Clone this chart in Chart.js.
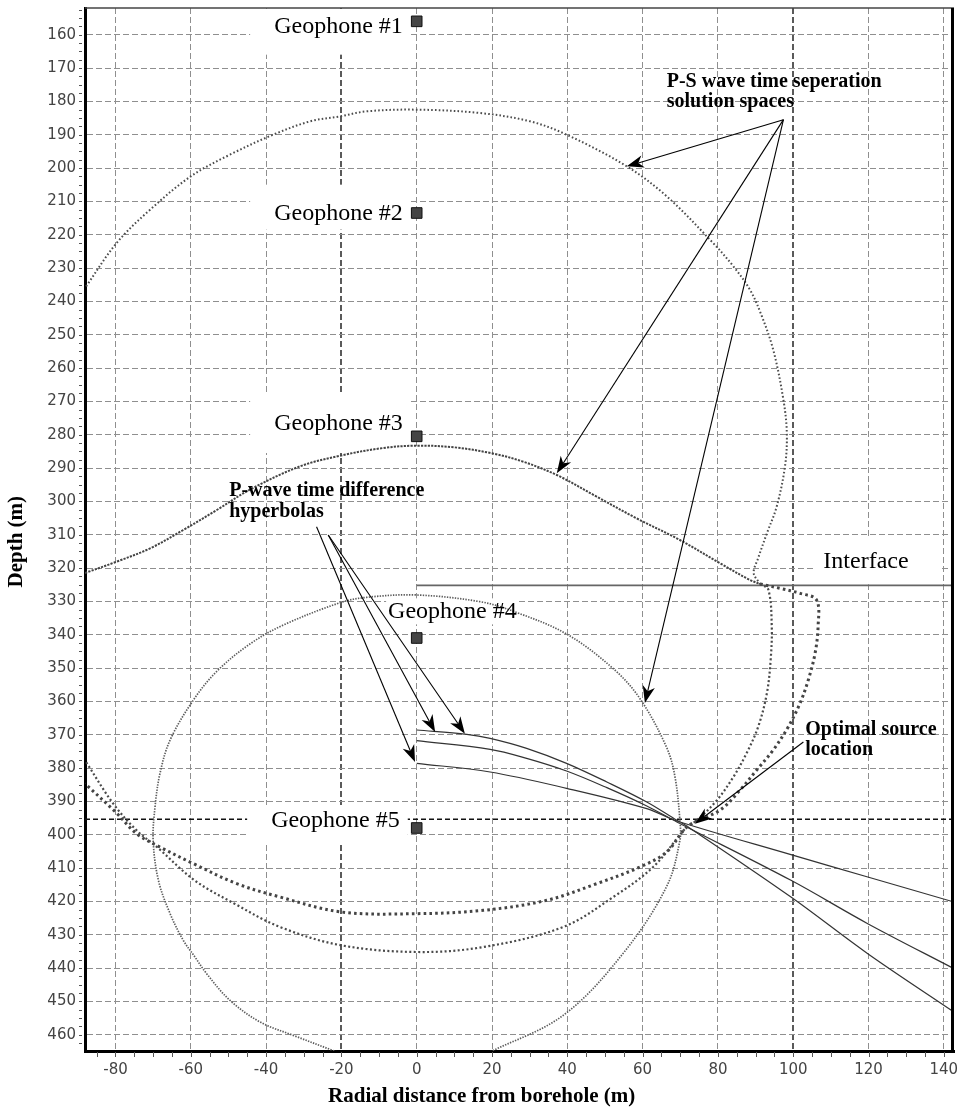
<!DOCTYPE html>
<html><head><meta charset="utf-8">
<script src="https://cdn.jsdelivr.net/npm/chart.js@4.4.1/dist/chart.umd.min.js"></script>
<style>html,body{margin:0;padding:0;background:#fff;}canvas{display:block;}</style>
</head><body>
<canvas id="c" width="958" height="1107"></canvas>
<script>
// ---------------- data ----------------
const xTicks = [-80,-60,-40,-20,0,20,40,60,80,100,120,140];
const yTicks = [160,170,180,190,200,210,220,230,240,250,260,270,280,290,300,310,320,330,340,350,360,370,380,390,400,410,420,430,440,450,460];

const geophoneX     = [0, 0, 0, 0, 0];
const geophoneDepth = [156, 213.5, 280.5, 341, 398];

const interfaceX     = [0, 142.7];
const interfaceDepth = [325.2, 325.2];
const sourceLineX     = [-88.1, 142.7];
const sourceLineDepth = [395.4, 395.4];

// P-S solution space A (outer, around geophones 1-2)
const psAUpperX = [-87.8,-79.7,-70.8,-60,-49.6,-38.1,-28.3,-20.3,-13.3,0,16.8,30.1,39.8,55.8,66.4,78.3,84.1,88.5,91.5,94.7,97.4,98.3,97.8,95.6,93,90.7,89.5,91.2];
const psAUpperY = [235.5,222.5,212.5,202.5,196,190,186,184.5,183,182.5,183.5,186,190,199.5,208.5,222,229.5,236.5,244,254.6,269.6,279.6,289.6,301.6,309.6,317,321.5,324.8];
const psALowerX = [91.2,93.4,94.3,94,93,90.7,87.6,84.1,79.7,74.4,71.7,62.8,52.2,38.9,17.7,0,-20,-36.3,-48.4,-59,-69,-74.4,-80.6,-88.1];
const psALowerY = [324.8,326.5,337.6,347.6,357.6,367.6,375.6,382.7,389.7,395.7,397.7,409.7,418.7,427.7,433.7,435.2,433.2,427.7,420.7,413.7,403.7,398.7,390.7,377.7];

// P-S solution space B (around geophone 3)
const psBUpperX = [-88.1,-79.7,-70.8,-62,-53.1,-44.3,-31,-20.3,-8.9,0,10,20,28,37.2,47.8,58.4,69.9,80.6,88.5,91.2];
const psBUpperY = [321.5,318.1,314.1,308.6,302.6,296.5,289.5,286.3,284,283.3,283.8,285.6,288,292.1,298.6,305.1,311.6,318.6,323.6,324.8];
const psBLowerX = [91.2,96.5,101.8,106.2,106.6,105.8,104,101.8,98.7,94.7,90.3,85.9,80.6,72,66.4,59.3,47.8,34.5,17.7,0,-20,-36.3,-47.8,-59.3,-68.2,-74.4,-80,-88.1];
const psBLowerY = [324.8,326.1,327.6,329.6,337.6,345.6,353.6,360.6,367.6,374.6,380.6,386.6,392.6,397.5,405.2,409.7,414.7,419.7,422.7,423.7,423.2,418.7,414.7,408.7,403.7,399.7,393.2,384.7];

// P-S solution space C (around geophones 4-5)
const psCX = [-21.2,-32.8,-41.6,-49.6,-55.8,-58.9,-62,-65.5,-68.6,-70,-69.5,-68.2,-65.5,-59.3,-53.1,-44.3,-35.4,-20.3,-13.3,0,16.8,25.7,39.8,52.2,59.3,66.4,68.6,69.9,69.9,66.4,54.9,38.9,19.5];
const psCY = [465.2,460.2,456.2,449.7,441.7,436.7,431.7,423.7,413.7,401.7,391.7,381.7,371.6,359.6,351,342.8,337.1,330.4,328.8,328.1,330.1,333,339.8,350.2,359.2,373.9,382.7,395.7,401.7,415.5,435.5,454.2,465.2];

// P-wave time difference hyperbolas
const hyp1X = [0,13.3,19.5,29.2,39.8,50.5,61.1,69.1,72,99.4,119.8,142.7];
const hyp1Y = [368.6,369.9,371.1,374.1,378.6,384.2,390.2,395.7,397.6,418.7,435.7,453.2];
const hyp2X = [0,19.5,29.2,39.8,50.5,61.1,69.1,99.4,119.8,142.7];
const hyp2Y = [371.8,374.4,377.1,380.9,385.9,391.4,396.2,413.7,426.7,440.2];
const hyp3X = [0,19.5,39.8,61.1,69.1,99.4,119.8,142.7];
const hyp3Y = [378.6,381.2,386.1,392.2,395.9,406,412.7,420.2];

// ---------------- annotations (layout) ----------------
const SERIF = '"Liberation Serif", "Times New Roman", serif';
const textLabels = [
  {t:'Geophone #1', x:-3.7, y:159.4, align:'right', font:'24px '+SERIF, box:[24,8,-25,22]},
  {t:'Geophone #2', x:-3.7, y:215.5, align:'right', font:'24px '+SERIF, box:[24,8,-35,10]},
  {t:'Geophone #3', x:-3.7, y:278.6, align:'right', font:'24px '+SERIF, box:[24,8,-35,23]},
  {t:'Geophone #4', x:-7.6, y:335.1, align:'left',  font:'24px '+SERIF, box:[2,2,-20,6]},
  {t:'Geophone #5', x:-4.5, y:397.7, align:'right', font:'24px '+SERIF, box:[24,8,-22,16]},
  {t:'Interface',   x:108,  y:320.1, align:'left',  font:'24px '+SERIF, box:[10,33,-31,16]},
  {t:'P-S wave time seperation', x:66.4, y:175.6, align:'left', font:'bold 20px '+SERIF},
  {t:'solution spaces',          x:66.4, y:181.6, align:'left', font:'bold 20px '+SERIF},
  {t:'P-wave time difference',   x:-49.8, y:298.4, align:'left', font:'bold 20px '+SERIF},
  {t:'hyperbolas',               x:-49.8, y:304.6, align:'left', font:'bold 20px '+SERIF},
  {t:'Optimal source',           x:103.2, y:370.0, align:'left', font:'bold 20px '+SERIF},
  {t:'location',                 x:103.2, y:376.2, align:'left', font:'bold 20px '+SERIF}
];
const arrows = [
  {from:[97.4,185.5], to:[55.8,199.5]},
  {from:[97.4,185.5], to:[37.2,291.6]},
  {from:[97.4,185.5], to:[60.6,360.5]},
  {from:[-26.6,307.6], to:[-0.45,378.2]},
  {from:[-23.5,310.1], to:[4.9,369.2]},
  {from:[-23.5,310.1], to:[12.8,369.7]},
  {from:[102.7,372.2], to:[73.9,396.7]}
];

function pts(xs, ys){ return xs.map((x,i)=>({x:x, y:ys[i]})); }
function curve(data, color, width, dash, order){
  return {data:data, showLine:true, borderColor:color, borderWidth:width, borderDash:dash||[],
          borderCapStyle:'butt', pointRadius:0, pointHoverRadius:0, tension:0.35, fill:false, order:order||0};
}

const datasets = [
  curve(pts(psAUpperX, psAUpperY), '#4d4d4d', 2,   [1.6,2.2]),
  curve(pts(psALowerX, psALowerY), '#4a4a4a', 2.2, [2,2.4]),
  curve(pts(psBUpperX, psBUpperY), '#444',    2,   [2.2,1.2]),
  curve(pts(psBLowerX, psBLowerY), '#444',    3,   [2.6,3.2]),
  curve(pts(psCX, psCY),           '#5c5c5c', 1.7, [1.4,1.3]),
  curve(pts(hyp1X, hyp1Y), '#333', 1.2),
  curve(pts(hyp2X, hyp2Y), '#333', 1.2),
  curve(pts(hyp3X, hyp3Y), '#333', 1.2),
  Object.assign(curve(pts(interfaceX, interfaceDepth), '#666', 1.6), {tension:0}),
  {data:pts(geophoneX, geophoneDepth), showLine:false, pointStyle:'rect', pointRadius:7.5,
   pointBackgroundColor:'#454545', pointBorderColor:'#111', pointBorderWidth:1, order:-1},
  Object.assign(curve(pts(sourceLineX, sourceLineDepth), '#111', 1.5, [5,3], 100), {tension:0})
];
const SRC_INDEX = datasets.length - 1;

function px(chart, x){ return chart.scales.x.getPixelForValue(x); }
function py(chart, y){ return chart.scales.y.getPixelForValue(y); }

const overlay = {
  id:'overlay',
  afterDatasetDraw(chart, args){
    if (args.index !== SRC_INDEX) return;
    const ctx = chart.ctx, a = chart.chartArea;
    ctx.save();
    ctx.beginPath(); ctx.rect(a.left+2, a.top+1, a.right-a.left-4, a.bottom-a.top-3); ctx.clip();
    ctx.fillStyle = '#fff';
    textLabels.forEach(l => {
      if (!l.box) return;
      ctx.font = l.font;
      const w = ctx.measureText(l.t).width;
      const X = px(chart, l.x), Y = py(chart, l.y);
      const left = l.align === 'right' ? X - w : X;
      ctx.fillRect(left - l.box[0], Y + l.box[2], w + l.box[0] + l.box[1], l.box[3] - l.box[2]);
    });
    ctx.restore();
  },
  afterDatasetsDraw(chart){
    const ctx = chart.ctx;
    ctx.save();
    ctx.fillStyle = '#000';
    ctx.textBaseline = 'alphabetic';
    textLabels.forEach(l => {
      ctx.font = l.font;
      ctx.textAlign = l.align;
      ctx.fillText(l.t, px(chart, l.x), py(chart, l.y));
    });
    ctx.strokeStyle = '#000'; ctx.lineWidth = 1.1;
    arrows.forEach(ar => {
      const x1 = px(chart, ar.from[0]), y1 = py(chart, ar.from[1]);
      const x2 = px(chart, ar.to[0]),   y2 = py(chart, ar.to[1]);
      const ang = Math.atan2(y2-y1, x2-x1), L = 17, W = 6.2, N = 5;
      ctx.beginPath(); ctx.moveTo(x1, y1);
      ctx.lineTo(x2 - Math.cos(ang)*(L-N), y2 - Math.sin(ang)*(L-N)); ctx.stroke();
      ctx.save(); ctx.translate(x2, y2); ctx.rotate(ang);
      ctx.beginPath(); ctx.moveTo(0,0); ctx.lineTo(-L,-W); ctx.lineTo(-L+N,0); ctx.lineTo(-L,W); ctx.closePath();
      ctx.fill(); ctx.restore();
    });
    ctx.restore();
  },
  afterDraw(chart){
    const ctx = chart.ctx, a = chart.chartArea, sx = chart.scales.x, sy = chart.scales.y;
    ctx.save();
    ctx.strokeStyle = '#444'; ctx.lineWidth = 1.5;
    ctx.beginPath(); ctx.moveTo(a.left, a.top); ctx.lineTo(a.right, a.top); ctx.stroke();
    ctx.strokeStyle = '#000'; ctx.lineWidth = 3;
    ctx.beginPath(); ctx.moveTo(a.right-1.5, a.top); ctx.lineTo(a.right-1.5, a.bottom); ctx.stroke();
    ctx.strokeStyle = '#555'; ctx.lineWidth = 1;
    ctx.beginPath();
    for (let v = -85; v <= 142; v += 5) {
      const X = Math.round(sx.getPixelForValue(v)) + 0.5;
      ctx.moveTo(X, a.bottom + 1); ctx.lineTo(X, a.bottom + 6);
    }
    for (let v = 152.5; v <= 464; v += 2.5) {
      const Y = Math.round(sy.getPixelForValue(v)) + 0.5;
      ctx.moveTo(a.left - 6, Y); ctx.lineTo(a.left - 3, Y);
    }
    ctx.stroke();
    ctx.fillStyle = '#000';
    ctx.font = 'bold 21px ' + SERIF;
    ctx.textAlign = 'center'; ctx.textBaseline = 'alphabetic';
    ctx.fillText('Radial distance from borehole (m)', 481.7, 1102);
    ctx.translate(22, 541.7); ctx.rotate(-Math.PI/2);
    ctx.fillText('Depth (m)', 0, 0);
    ctx.restore();
  }
};

const gridColor = ctx => (ctx.tick && (ctx.tick.value === -20 || ctx.tick.value === 100)) ? '#5a5a5a' : '#8f8f8f';
const gridWidth = ctx => (ctx.tick && (ctx.tick.value === -20 || ctx.tick.value === 100)) ? 2 : 1;

new Chart(document.getElementById('c'), {
  type:'scatter',
  data:{datasets:datasets},
  options:{
    responsive:false, animation:false, devicePixelRatio:1,
    layout:{autoPadding:false, padding:{left:0, right:4, top:8, bottom:0}},
    plugins:{legend:{display:false}, tooltip:{enabled:false}},
    scales:{
      x:{
        type:'linear', min:-88.1, max:142.7,
        afterBuildTicks: s => { s.ticks = xTicks.map(v => ({value:v})); },
        afterFit: s => { s.height = 56; s.paddingLeft = 0; s.paddingRight = 0; },
        grid:{color:gridColor, lineWidth:gridWidth, drawTicks:false},
        border:{display:true, color:'#000', width:3, dash:[6,3]},
        ticks:{padding:10, maxRotation:0, autoSkip:false, color:'#444',
               font:{family:'"DejaVu Sans", sans-serif', size:15}, callback:v => String(v)}
      },
      y:{
        type:'linear', reverse:true, min:152, max:464.9,
        afterBuildTicks: s => { s.ticks = yTicks.map(v => ({value:v})); },
        afterFit: s => { s.width = 85; s.paddingTop = 0; s.paddingBottom = 0; },
        grid:{color:'#8f8f8f', lineWidth:1, drawTicks:false},
        border:{display:true, color:'#000', width:3, dash:[6,3]},
        ticks:{padding:9, autoSkip:false, color:'#444',
               font:{family:'"DejaVu Sans", sans-serif', size:15}, callback:v => String(v)}
      }
    }
  },
  plugins:[overlay]
});
</script>
</body></html>
